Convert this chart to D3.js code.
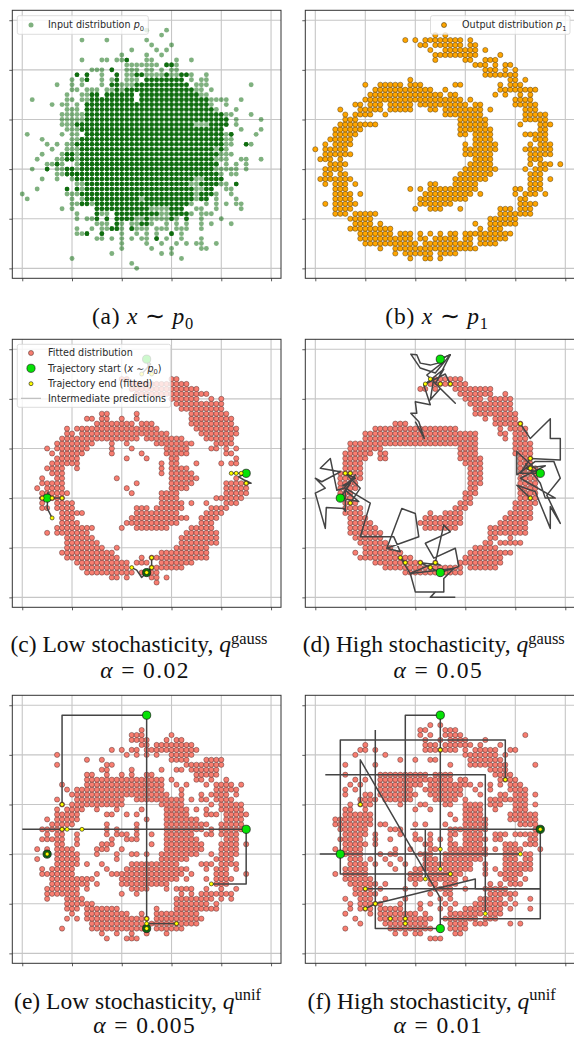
<!DOCTYPE html>
<html>
<head>
<meta charset="utf-8">
<script src="https://cdnjs.cloudflare.com/ajax/libs/d3/7.8.5/d3.min.js"></script>
<style>
  html, body { margin: 0; padding: 0; background: #fff; }
  svg { display: block; }
</style>
</head>
<body>
<div id="chart"></div>
<script>
// every row is "gridY:gridX gridX-gridX ..."
var inputSparseRows = ["0:23","1:22","2:10 32","3:18 28 30","4:20 26 30 36 37","5:20 25 28 31 33 35 36 39","6:15 16 18 20 22 24 25 29 32 36","7:11 12 20 23 25 27 32","8:11 14 16 17 20 23-25 27-29 31-33 36","9:15-17 20 22 23 26 29 31 33 36 38 42","10:11 13 14 23 24 26-29 31 36 40","11:11 16 17 28 29 34 36-38","12:8 10 26-29 35 36 39 44","13:10 11 14 34 37 39 41 43 44","14:1 10 12 24 35 39 43","15:0 9 10 11 35 39 42","16:3 12 35 36 41 42","17:11 12 34 35 40 41","18:4 7 10 35 36","19:7 8 11 40 42 43","20:2 7 8 11 39-43 45","21:5 6 8 11 41 43 45","22:3 7 8 11 39-41 44 45 48","23:4 8 11 40 41 42","24:6 9-11 39 41","25:5 7 9 10 41 42 46","26:4 10 11 41 42","27:1 8 10 11 41 47","28:9-11 44 48","29:8-10 35-37 43","30:8-12 43 48","31:8-12 41 42 46","32:9-11 39 43","33:6 8 9 11 38 41","34:2 9 10 12 13 38-41 44","35:9 12 13 36 37","36:10 11 13-15 17 18 20 35 36 38","37:7 10 12 16 20-22 35-37 46","38:10 12 16 18 21-23 34 36 37","39:16 21 22 25-28 30 31 34 37","40:14-16 21-23 25 26 28 30 31","41:21-27 31","42:12 16 17 19 20 25 26 31 34","43:20 25 28","44:22 27 29","45:26 30","46:12 17 25","47:28","48:25 29"];
var inputDenseRows = ["6:27","7:13 16 30","8:18 19 22","9:19 24 25","10:15 17 19-22 25 30 33","11:15 19-27 30-33","12:15-25 30-32","13:12 13 15-33","14:13-23 25-34 36 37","15:12-34 36-38","16:9 11 13-34 37 38","17:13-33 36-39 43","18:11-34 37-40","19:9-39","20:5 9 10 12-38","21:7 12-38 39","22:9 10 12-38","23:9 10 12-39","24:12-38 40","25:11-40 45","26:12-40","27:13-40 42","28:12-40","29:11-34 38-41","30:13-41","31:13-40","32:13-38","33:13-37","34:14-22 24-37","35:14 15 17-22 24-35","36:19 21-34","37:18 19 23-33","38:13 19 25-32","39:11 13 19 23 24 29 32 33","40:18","41:29 30","42:21"];

var outputRows = ["2:19 22 23 25","3:16 18-23 25-28","4:13 16-32","5:10-20 22-29 30 31 33-36","6:9-16 17-19 21 22 24-28 30 31 33-38","7:9-15 17-19 21 23 25 27 28 30-32 33-39","8:7-15 33 35-37","9:8-11 13 32 35-40","10:7-11 35-40","11:4-6 8-12 37-40 41-43","12:4-7 20 23-25 29 37-39 41-43","13:2 4-8 21-27 41-44","14:4-7 21-30 41 42","15:4-7 9 22-31 33 40 42-44 46","16:4-6 19 21 23-32 40 41 43-45","17:2 4-6 8 23 24 28-32 43-45","18:1-3 4-7 28-33 34 43-45 47","19:2 3 5 6 29-35 43-45","20:2-5 30-36 42 44-46","21:3-6 31-35 43 45-47 49","22:1-3 5 32-35 43-45","23:2-7 30-35 43-47","24:0 2-6 30-36 42 43 44-47","25:2 4-7 30 32-36 43 45-47","26:3-7 32-35 44-46","27:4-8 29 30 32-35 42 43 44-46","28:4-8 9 29-35 45 46","29:5-12 29-34 41 45-47","30:6-8 29-34 42-46","31:6 8-11 14 26-33 42-46","32:5 9-13 15-19 23 24 26-33 35 42-44","33:8 9 11-13 15-19 21-30 32 33 40-44","34:10-19 20-29 31 40-43","35:11-18 19-25 27 28 36 38 41 43","36:12-17 18-23 26 37-39 40-42 43 44","37:10 13-17 19-21 28 29 37 39-41","38:19 39 40 42","39:34-39 40","40:34-36 38 40","41:32 33 34 36 38 39","42:24 30 31 34-36","43:24 25 26-32 37","44:23 26-32 34","45:21 22 24-29 31 32","46:18 20 22-29 31","47:24 26"];

var gaussLowRows = ["3:27","4:18 19 21 26 27 29","5:13-20 21 22 24-27","6:12-21 26-32","7:11-21 23-25 28-34","8:9-19 24 26-37","9:8-18 28-37","10:9-16 19 31-37","11:9-15 32-39","12:9-14 32-39","13:5 7-13 33-39","14:7-14 20 23-29 34-38","15:8-11 21-31 36-38","16:8-10 22-33 36-39","17:8-12 23-31 37-40","18:4 5 7-10 23-25 27-32 38-41","19:4 7-10 28-32 34 37 41-43","20:4-8 28-31 39-44","21:4-9 22 28-31 41-45","22:3 5-8 21 30-33 41-45","23:4-8 23 30-34 41-45","24:4 7 8 19 30-35 43","25:6-8 28 30-34","26:5-8 11 28 30-33","27:6-11 28 30 31 35 40 42 43","28:7-11 21 25 30 31 43","29:6 8-12 18 24 29-33 41 42","30:5 7-13 18 22 29-33 38 39 41 43","31:7-14 18 21 27-34 39-42","32:8-23 25-32 37-42","33:9 10 12-29 36-43","34:9 11-27 35-43","35:15-22 24-26 34-42","36:13 14 16 17 20 23 34-42","37:16 17 23 34-41","38:32-40","39:31-40","40:30-35 38 40","41:23-37","42:22-35","43:22-33","44:20 21 30 31"];
var gaussHighRows = ["5:18-29","6:14-29 31-36","7:12-21 24 29-37","8:9-19 30-37","9:8 10-17 31-39","10:10-15 32-36","11:9-14 34 35 37-41","12:8-13 35 36 39","13:7-13 35-42","14:7-12 22-28 35-42","15:7-11 21-29 37-42","16:7-10 22-29 38-43","17:6-9 23 26-29 39-43","18:6-9 28-30 40-43","19:6-8 29-31 40-44","20:6 7 30 31 41-44","21:5-7 30-32 41-44","22:5-8 31 32 41-44","23:5-8 31-33 41-44","24:5-9 31-33 41-44","25:5-9 31-33 41-44","26:6-9 31-33 41-44","27:6-9 30-33 41-43","28:6-10 13 14 29-33 41-43","29:6-11 13 14 29-32 40-43","30:7-13 29-32 40-43","31:7-32 40-43","32:10-32 38 40-42","33:10-32 37 38 40-42","34:12-28 37 39-42","35:16-18 36-41","36:34 36-40","37:32-40","38:32-39","39:31-39","40:30-33 35-39","41:29-35 38","42:21 22 24 28-35","43:23-30","44:24-29"];
var unifLowRows = ["3:17 21-23","4:16 19 22 25 29","5:8 14-25 27-32","6:14-24 26-35","7:9 11 13-25 27-36","8:10 13-21 24 27-35","9:9-11 13-19 27 31-39","10:9-14 31-37 39","11:5 9-12 31-38 40 42","12:5-11 20 23 32 34 36-42","13:5 6-11 13 22-25 29 31-34 37 40 43","14:6-13 15 20-29 39-41","15:6-14 20-31 33 37 39-42","16:4-10 15 18-32 34 39-41 45","17:4 6-10 17 21-33 37 39-41 43","18:7-11 13 16 22-31 36-38 40-43","19:3 7-11 19 28-33 39-42","20:7-11 15 19 22 23 25 28-35 38 40-43","21:3 5 7-10 15-17 20 29-36 40-43","22:7 8 11 16-18 26 29-36 40-43 45","23:4-8 11 18 21-23 29-35 41-43","24:5 7 8 11 17 19-21 23 26 29-34 37 38 40-43","25:4-8 17 19 23 29-36 38 40-44","26:6-10 17 23 29-37 40-44","27:5 7-11 25 29-35 41-44","28:7-11 17 18 21 23 29-33 37-39 41-45","29:7 9-12 15 19 24 29-33 35 37 40-44","30:8 10-20 28-32 38 40-44","31:7 11-20 23-32 34 36 37 39-42","32:10-29 32 36 38-41 43","33:9 11-28 32 39-43","34:8 13-28 31 33 37 39-42 44","35:13-28 30 35 36 38 41","36:13 14 17 20 22 25 26 35-39","37:16 17 22 28 31 32 34-39","38:7 17 18 33-40","39:13 16 30-33 37-40","40:7 21 23 25 27 30-34","41:18 20 22 23 25-35","42:24 25 27-34","43:22-25 29 31 32","44:22-24 30","45:24"];
var unifHighRows = ["3:23-25","4:16 18 20 21 28 29","5:6 15-23 27-30","6:9 14-22 27-30 32-34 39 41","7:8 13-23 26-32 34-36","8:6 11 13-20 22 27-33 35-37","9:7 9-11 13-17 21 25 27 30-37 39 43","10:7 9-13 17 21 23 26 28 32-38 40","11:6 9-11 14 18 25 27 33-37 39 43","12:8-12 23 26 27 35-40","13:8-11 13 18 24-27 30 34-38","14:7-12 14 20 23 24 26-28 35 37 39-41","15:6-11 19-21 23-28 30 38-40 42","16:4 6-10 19-21 23-29 34 37-41","17:6-10 16 20-24 26-31 34 36 38-43","18:7-10 12 15 18 22-31 34 38-43","19:7-9 11 14 17 22-24 26-33 38-40 42 43","20:6-9 13 15 16 21-23 26-34 38-40 42 43","21:4 6-9 16 19 23 24 27-34 36 38-41 45","22:6-10 12 22 23 27 28 30-33 38-40 42-44","23:5-9 12 15 20 21 23 25 27 30-34 36 37 43 44","24:6-10 12 17 20 23 27 28 30-33 36-38 40-44","25:5-10 15-17 27-34 44","26:4-11 13 14 20 22 26 30-34 41-44","27:4-11 28 30-34 39-44","28:6-11 27 30-33 39-44","29:6 7 10 20 23 30-33 36 40-42","30:7 9-11 17 21 22 26 27 30-33 35-37 40-42 44","31:9-12 14-19 24-28 30 35-42","32:6 10 11 13-20 23-29 33 37 38 40-42 44","33:6 8 13-19 22-29 32 35 39-42","34:7 9 13-21 23-31 33 35 37 39-41","35:8 10 13-27 29 30 37-40","36:6 13-22 24-27 36-39","37:35-38","38:6 12 27 31-38 44","39:17 20 23 24 31-37","40:8 14 30-36 38","41:9 10 12 22-28 30 32-36 39 40","42:10 22-24 26-31 33 37","43:22 25 27-30 34","44:21 23 26-29 42","45:21 22 26-28","46:23 25"];

var gaussLowStarts = [[45,25],[5,20],[25,5],[25,48]];
var gaussLowEnds = [[42,25],[43,25],[44,25],[45,23],[4,20],[6,20],[8,20],[6,16],[22,6],[26,6],[26,8],[25,5],[24,45],[26,45]];
var gaussLowPaths = [
  [[45,25],[42,25]],
  [[45,25],[43.5,24.3],[44.5,23.7],[46,23],[45,23]],
  [[5,20],[3.5,20],[8,20]],
  [[5,20],[5.2,21.2],[5,18],[6,16]],
  [[25,5],[24,4],[23,5.5],[22,6]],
  [[25,5],[26,6],[26,8]],
  [[25,48],[25.8,47],[24,45]],
  [[25,48],[25.5,46],[26,45]]
];

var gaussHighStarts = [[25,48],[45,25],[5,20],[25,5]];
var gaussHighEnds = [[22,43],[23,44],[25,43],[27,43],[41,35],[43,28],[43,26],[43,20],[6,25],[7,25],[7,19],[17,8],[18,7],[21,7],[23,6],[24,7]];
var gaussHighPaths = [
  [[25,48],[27,48.9],[24,45.2],[21,46.2],[19.1,49],[20.3,48.9],[21,47.2],[23,46.8],[25.7,47.5],[22.3,44.8],[28,39.1],[25,42.1],[23,39.8],[23.7,44.2],[21.7,42.8],[23,38.8],[20,39.4],[20.3,37.1],[19.1,37.1],[20.7,35.4],[21.8,32],[20,35.4]],
  [[25,48],[27,48.9],[24,43],[25.7,46],[22,43],[26,45],[27,43]],
  [[45,25],[41,25],[43,28],[49,27.7],[49,32],[47,32],[47,36],[43,32],[41,35]],
  [[45,25],[40.3,29.4],[40.3,24.7],[44,27.4],[47.7,27.4],[49,24],[46.3,20.6],[49,14.9],[47,18.3],[47,13.9],[44,21.3],[40.3,22.6],[43,20]],
  [[45,25],[42,26],[46,26.5],[41,24],[48,20],[46,20],[45,23],[42,27]],
  [[5,20],[8.7,19.3],[6,21.6],[8,24.7],[5.7,22],[4.3,21.6],[3,28],[1,26],[5,25.3],[1.3,23.3],[0,24],[2,22],[0,21],[2,13.9],[2.2,18.1],[5.7,17.9],[6,17.3],[6,22],[11,19],[9,12.2],[15.7,12.2],[17,9.2],[14.3,9.9],[20.7,12.2],[20,16.9],[17.3,17.9],[14.3,9.9]],
  [[5,20],[7,23],[5.5,22.5],[8,24],[6,25],[9,22],[7,19]],
  [[25,5],[28.7,6.2],[28,9.9],[23.7,7.9],[22,10.9],[27,13.2],[25.7,14.6],[24,7],[19,4.8],[20,1.1],[23,1.1],[24,1.1],[23,0],[28,0]],
  [[24,1.1],[25.7,1.1],[25.7,3.8],[27.7,5.8],[19,4.8],[17,8],[18,7]],
  [[25,5],[23,6],[21,7],[25,6.5],[24,7]]
];

var unifLowStarts = [[25,48],[45,25],[5,20],[25,5]];
var unifLowEnds = [[8,30],[8,25],[9,25],[12,25],[38,14],[5,20],[25,5],[25,6],[25,7],[31,6]];
var unifLowPaths = [
  [[25,48],[8,48],[8,30]],
  [[25,48],[25,5]],
  [[25,6],[31,6]],
  [[45,25],[0,25]],
  [[45,25],[45,14],[38,14]]
];

var unifHighStarts = [[25,48],[5,20],[45,25],[25,5]];
var unifHighEnds = [[25,41],[38,35],[9,30],[25,21],[41,20],[25,17],[27,16],[22,15],[10,13],[12,10],[10,9],[15,7],[18,7],[18,6],[34,8],[45,25]];
var unifHighPaths = [
  [[25,48],[18,48],[18,6]],
  [[25,48],[25,17]],
  [[5,20],[1,20],[41,20]],
  [[5,20],[5,43],[38,43],[38,35]],
  [[5,20],[5,16],[27,16]],
  [[45,25],[19,25]],
  [[22,25],[22,15]],
  [[45,25],[45,7],[25,7]],
  [[34,8],[34,36],[2,36]],
  [[45,13],[32,13],[32,15],[12,10],[10,9]],
  [[45,13],[10,13]],
  [[25,5],[12,5],[12,45]],
  [[9,30],[9,39],[25,11.2],[25,5]]
];

var gridTicks = [0, 10, 20, 30, 40, 50];

var width = 574, height = 1038;
var svg = d3.select("#chart").append("svg")
  .attr("width", width)
  .attr("height", height)
  .attr("viewBox", "0 0 " + width + " " + height);

var mono = "'DejaVu Sans', sans-serif";
var serif = "'Liberation Serif', serif";

// "7:3 5-8" -> cells, repeated when a cell holds many samples
function expandRows(rows, repeat) {
  var cells = [];
  rows.forEach(function(row) {
    var parts = row.split(":");
    parts[1].split(" ").forEach(function(run) {
      var ends = run.split("-").map(Number);
      var last = ends.length > 1 ? ends[1] : ends[0];
      for (var gx = ends[0]; gx <= last; gx++) {
        for (var k = 0; k < (repeat || 1); k++) cells.push([gx, +parts[0]]);
      }
    });
  });
  return cells;
}

function makePanel(left, top) {
  var right = left + (left > 200 ? 270 : 268.7);
  var bottom = top + 268;
  var x = d3.scaleLinear().domain([-2, 52]).range([left, right]);
  var y = d3.scaleLinear().domain([-2, 52]).range([bottom, top]);
  var g = svg.append("g");

  var gridG = g.append("g");
  gridG.selectAll(".gx").data(gridTicks).enter().append("line")
    .attr("x1", function(d){return x(d);}).attr("x2", function(d){return x(d);})
    .attr("y1", top).attr("y2", bottom)
    .attr("stroke", "#c6c6c6").attr("stroke-width", 1.1);
  gridG.selectAll(".gy").data(gridTicks).enter().append("line")
    .attr("y1", function(d){return y(d);}).attr("y2", function(d){return y(d);})
    .attr("x1", left).attr("x2", right)
    .attr("stroke", "#c6c6c6").attr("stroke-width", 1.1);

  var xAxis = g.append("g")
    .attr("transform", "translate(0," + bottom + ")")
    .call(d3.axisBottom(x).tickValues(gridTicks).tickSize(3).tickFormat(""));
  var yAxis = g.append("g")
    .attr("transform", "translate(" + left + ",0)")
    .call(d3.axisLeft(y).tickValues(gridTicks).tickSize(3).tickFormat(""));
  xAxis.selectAll(".domain").remove();
  yAxis.selectAll(".domain").remove();
  g.selectAll(".tick line").attr("stroke", "#333").attr("stroke-width", 0.8);

  var p = {g: g, x: x, y: y, left: left, top: top, right: right, bottom: bottom};
  p.marks = g.append("g");
  p.over = g.append("g");
  g.append("rect")
    .attr("x", left).attr("y", top)
    .attr("width", right - left).attr("height", bottom - top)
    .attr("fill", "none").attr("stroke", "#333").attr("stroke-width", 1);
  return p;
}

function dots(p, cells, r, fill, stroke, opacity) {
  p.marks.append("g").selectAll("circle").data(cells).enter().append("circle")
    .attr("cx", function(d){return p.x(d[0]);})
    .attr("cy", function(d){return p.y(d[1]);})
    .attr("r", r)
    .attr("fill", fill)
    .attr("fill-opacity", opacity)
    .attr("stroke", stroke)
    .attr("stroke-opacity", 0.75)
    .attr("stroke-width", stroke == "none" ? 0 : 0.55);
}

function trajectories(p, paths, starts, ends) {
  var line = d3.line().x(function(d){return p.x(d[0]);}).y(function(d){return p.y(d[1]);});
  p.marks.append("g").selectAll("path").data(paths).enter().append("path")
    .attr("d", line)
    .attr("fill", "none")
    .attr("stroke", "#444")
    .attr("stroke-width", 1.5)
    .attr("stroke-linejoin", "round");
  p.marks.append("g").selectAll("circle").data(starts).enter().append("circle")
    .attr("cx", function(d){return p.x(d[0]);})
    .attr("cy", function(d){return p.y(d[1]);})
    .attr("r", 4.1)
    .attr("fill", function(d) {
      var stalled = ends.some(function(e){return e[0] == d[0] && e[1] == d[1];});
      return stalled ? "#0b6b12" : "#06e206";
    })
    .attr("stroke", "#111")
    .attr("stroke-width", 0.7);
  p.marks.append("g").selectAll("circle").data(ends).enter().append("circle")
    .attr("cx", function(d){return p.x(d[0]);})
    .attr("cy", function(d){return p.y(d[1]);})
    .attr("r", 2)
    .attr("fill", "#ffff00")
    .attr("stroke", "#111")
    .attr("stroke-width", 0.6);
}

// parts: [text, "i" | "sub" | "sup" | ""]
function richText(sel, parts, size) {
  var shift = 0;
  parts.forEach(function(part) {
    var t = sel.append("tspan").text(part[0]);
    var target = part[1] == "sub" ? size * 0.25 : part[1] == "sup" ? -size * 0.36 : 0;
    if (target != shift) t.attr("dy", target - shift);
    shift = target;
    if (part[1] == "i") t.attr("font-style", "italic");
    if (part[1] == "sub" || part[1] == "sup") t.attr("font-size", size * 0.7);
  });
}

function caption(cx, base, parts, spacing) {
  var t = svg.append("text")
    .attr("x", cx).attr("y", base)
    .attr("text-anchor", "middle")
    .attr("font-family", serif)
    .attr("font-size", 23.5)
    .attr("letter-spacing", spacing || 0)
    .attr("fill", "#111")
    .attr("xml:space", "preserve");
  richText(t, parts, 23.5);
}

function legendBox(p, x0, y0, w, h, rows) {
  var g = p.over.append("g");
  g.append("rect")
    .attr("x", x0).attr("y", y0).attr("width", w).attr("height", h)
    .attr("rx", 2)
    .attr("fill", "#fff").attr("fill-opacity", 0.8)
    .attr("stroke", "#d4d4d4").attr("stroke-width", 0.8);
  rows.forEach(function(row) {
    if (row.kind == "line") {
      g.append("line")
        .attr("x1", row.mx - 10).attr("x2", row.mx + 10)
        .attr("y1", row.y).attr("y2", row.y)
        .attr("stroke", "#b8b8b8").attr("stroke-width", 1.1);
    } else {
      g.append("circle")
        .attr("cx", row.mx).attr("cy", row.y).attr("r", row.r)
        .attr("fill", row.fill)
        .attr("fill-opacity", row.opacity || 1)
        .attr("stroke", row.stroke).attr("stroke-width", 0.6);
    }
    var t = g.append("text")
      .attr("x", row.tx).attr("y", row.y + 3.2)
      .attr("font-family", mono)
      .attr("font-size", 9.6)
      .attr("fill", "#2a2a2a")
      .attr("xml:space", "preserve");
    richText(t, row.label, 9.6);
  });
}

// (a) input
var pa = makePanel(12.3, 10.3);
dots(pa, expandRows(inputSparseRows), 2.45, "#006400", "none", 0.5);
dots(pa, expandRows(inputDenseRows, 3), 2.3, "#006400", "none", 0.6);
legendBox(pa, 17.3, 15.7, 131, 18.6, [
  {mx: 31, tx: 48, y: 25, r: 2.5, fill: "#006400", opacity: 0.5, stroke: "none",
   label: [["Input distribution ",""],["p","i"],["0","sub"]]}
]);
caption(143, 323.5, [["(a) ",""],["x","i"],[" ∼ ",""],["p","i"],["0","sub"]], 0.8);

// (b) output
var pb = makePanel(305.3, 10.3);
dots(pb, expandRows(outputRows), 2.6, "#ffa500", "#2e2410", 1);
legendBox(pb, 430.5, 15.7, 139.5, 18.6, [
  {mx: 444, tx: 462, y: 25, r: 2.5, fill: "#ffa500", stroke: "#4a3a10",
   label: [["Output distribution ",""],["p","i"],["1","sub"]]}
]);
caption(437, 323.5, [["(b) ",""],["x","i"],[" ∼ ",""],["p","i"],["1","sub"]], 0.8);

// (c) low gauss
var pc = makePanel(12.3, 339.3);
dots(pc, expandRows(gaussLowRows), 2.6, "#f87d70", "#332020", 1);
trajectories(pc, gaussLowPaths, gaussLowStarts, gaussLowEnds);
legendBox(pc, 17.3, 344.3, 153.4, 63, [
  {mx: 31, tx: 48, y: 353, r: 2.5, fill: "#f87d70", stroke: "#5a3a36", label: [["Fitted distribution",""]]},
  {mx: 31, tx: 48, y: 368.3, r: 4.1, fill: "#06e206", stroke: "#111",
   label: [["Trajectory start (",""],["x","i"],[" ∼ ",""],["p","i"],["0","sub"],[")",""]]},
  {mx: 31, tx: 48, y: 383.7, r: 2, fill: "#ffff00", stroke: "#111", label: [["Trajectory end (fitted)",""]]},
  {mx: 31, tx: 48, y: 398.3, kind: "line", label: [["Intermediate predictions",""]]}
]);
caption(139, 652, [["(c) Low stochasticity, ",""],["q","i"],["gauss","sup"]]);
caption(145, 678, [["α","i"],[" = 0.02",""]], 1.4);

// (d) high gauss
var pd = makePanel(305.3, 339.3);
dots(pd, expandRows(gaussHighRows), 2.6, "#f87d70", "#332020", 1);
trajectories(pd, gaussHighPaths, gaussHighStarts, gaussHighEnds);
caption(433.7, 652, [["(d) High stochasticity, ",""],["q","i"],["gauss","sup"]]);
caption(438.3, 678, [["α","i"],[" = 0.05",""]], 1.4);

// (e) low unif
var pe = makePanel(12.3, 695.3);
dots(pe, expandRows(unifLowRows), 2.6, "#f87d70", "#332020", 1);
trajectories(pe, unifLowPaths, unifLowStarts, unifLowEnds);
caption(137.5, 1008.5, [["(e) Low stochasticity, ",""],["q","i"],["unif","sup"]]);
caption(144.7, 1032.8, [["α","i"],[" = 0.005",""]], 1.4);

// (f) high unif
var pf = makePanel(305.3, 695.3);
dots(pf, expandRows(unifHighRows), 2.6, "#f87d70", "#332020", 1);
trajectories(pf, unifHighPaths, unifHighStarts, unifHighEnds);
caption(431.7, 1008.5, [["(f) High stochasticity, ",""],["q","i"],["unif","sup"]]);
caption(438.3, 1032.8, [["α","i"],[" = 0.01",""]], 1.4);
</script>
</body>
</html>
